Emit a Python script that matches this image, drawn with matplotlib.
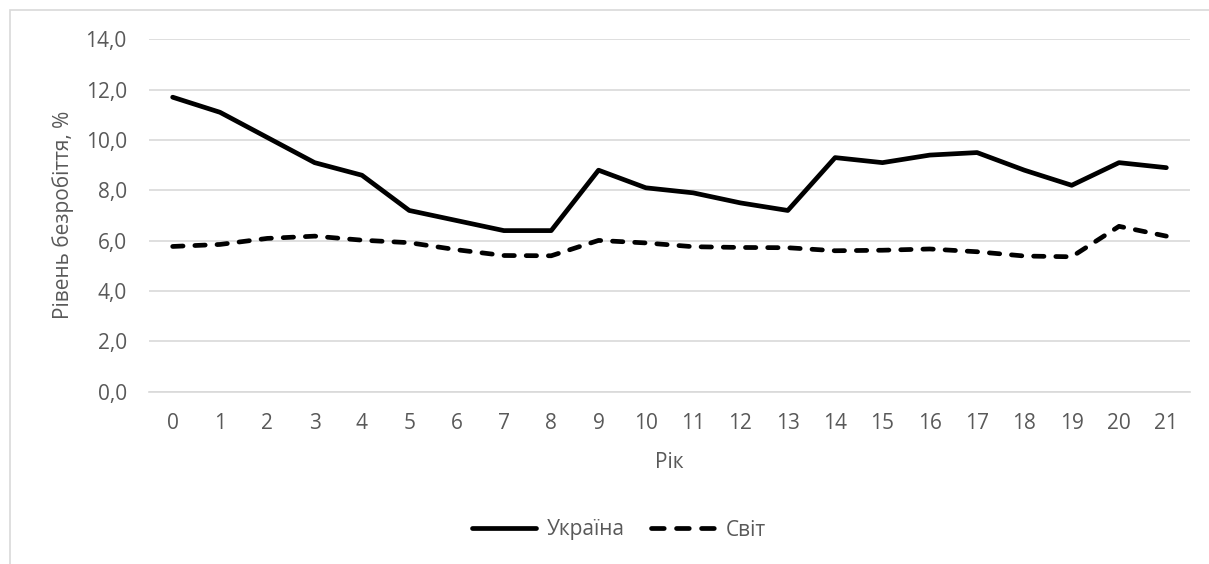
import matplotlib
matplotlib.use('Agg')
import matplotlib.pyplot as plt
from matplotlib.patches import Rectangle
from matplotlib.lines import Line2D
from matplotlib.ticker import FuncFormatter

plt.rcParams['font.family'] = ['Open Sans', 'DejaVu Sans']

# unemployment rate, %
years = list(range(22))
ukraine = [11.7, 11.1, 10.1, 9.1, 8.6, 7.2, 6.8, 6.4, 6.4, 8.8, 8.1,
           7.9, 7.5, 7.2, 9.3, 9.1, 9.4, 9.5, 8.8, 8.2, 9.1, 8.9]
world = [5.77, 5.85, 6.09, 6.18, 6.02, 5.92, 5.64, 5.41, 5.40, 6.01, 5.91,
         5.76, 5.73, 5.72, 5.60, 5.62, 5.67, 5.56, 5.39, 5.36, 6.57, 6.18]
y_ticks = [0, 2, 4, 6, 8, 10, 12, 14]

text_col = '#595959'
grid_col = '#d9d9d9'
fs = 15
W, H = 1209, 564

fig = plt.figure(figsize=(W / 100, H / 100), dpi=100)
ax = fig.add_axes([149 / W, 1 - 391.7 / H, (1190 - 149) / W, (391.7 - 39.3) / H])

ax.plot(years, ukraine, color='black', lw=3.4, solid_capstyle='round',
        solid_joinstyle='round', label='Україна')
ax.plot(years, world, color='black', lw=3.4, dashes=(2.2, 2.5),
        dash_capstyle='round', label='Світ')

ax.set_xlim(-0.5, 21.5)
ax.set_ylim(0, 14)
ax.set_xticks(years)
ax.set_yticks(y_ticks)
ax.yaxis.set_major_formatter(FuncFormatter(lambda v, p: f'{v:.1f}'.replace('.', ',')))
ax.grid(axis='y', color=grid_col, lw=1.2)
ax.set_axisbelow(True)
for s in ['top', 'right', 'left']:
    ax.spines[s].set_visible(False)
ax.spines['bottom'].set_color(grid_col)
ax.spines['bottom'].set_linewidth(1.2)
ax.tick_params(axis='both', length=0, labelsize=fs, labelcolor=text_col)
ax.tick_params(axis='y', pad=16)
ax.tick_params(axis='x', pad=15)

fig.text(63 / W, 1 - 215 / H, 'Рівень безробіття, %', rotation=90,
         ha='center', va='center', fontsize=fs, color=text_col)
fig.text(669 / W, 1 - 463 / H, 'Рік', ha='center', va='center',
         fontsize=fs, color=text_col)

# legend keys: three whole dashes for the dashed entry
handles = [Line2D([], [], color='black', lw=3.4, solid_capstyle='round'),
           Line2D([], [], color='black', lw=3.4, dashes=(2.7, 2.6), dash_capstyle='round')]
leg = fig.legend(handles, ['Україна', 'Світ'], loc='center',
                 bbox_to_anchor=(619 / W, 1 - 530 / H), ncol=2, frameon=False,
                 fontsize=fs, handlelength=3.07, handletextpad=0.5,
                 columnspacing=1.3)
for t in leg.get_texts():
    t.set_color(text_col)

# chart area frame
fig.add_artist(Rectangle((10 / W, -0.1), 1.2, 1 - 10 / H + 0.1,
                         transform=fig.transFigure, fill=False,
                         ec=grid_col, lw=1.2))

fig.savefig('out.png', dpi=100)
